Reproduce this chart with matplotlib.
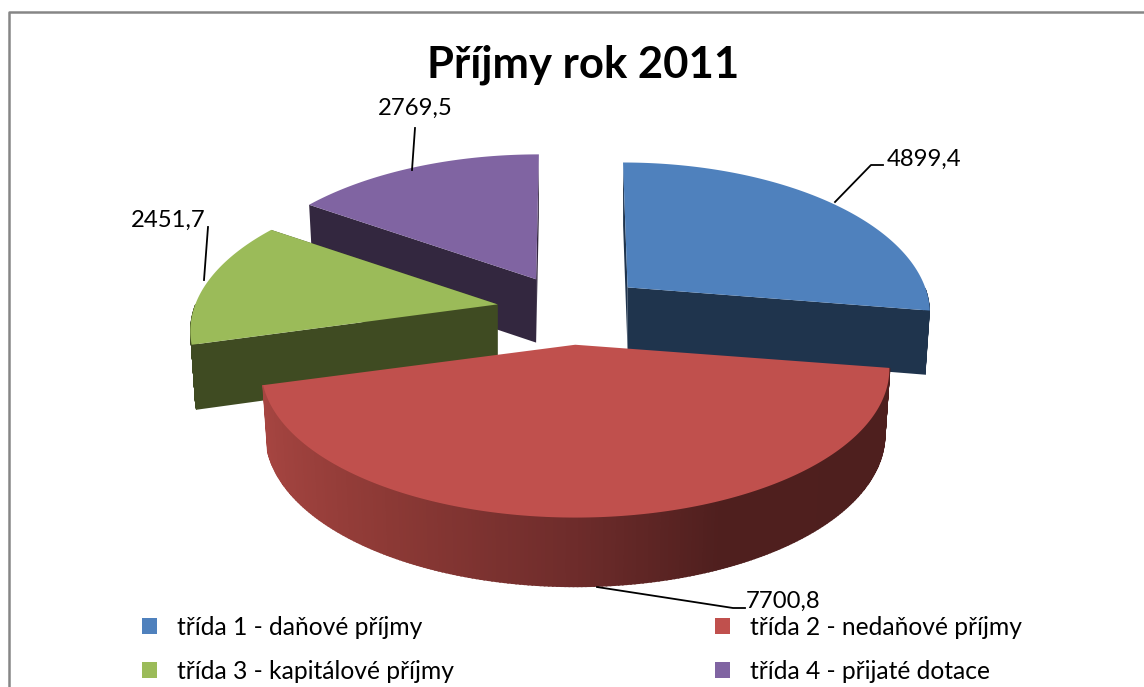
import numpy as np
import matplotlib
matplotlib.use('Agg')
import matplotlib.pyplot as plt
from matplotlib.patches import Patch

# Data
categories = ['třída 1 - daňové příjmy', 'třída 2 - nedaňové příjmy',
              'třída 3 - kapitálové příjmy', 'třída 4 - přijaté dotace']
values = [4899.4, 7700.8, 2451.7, 2769.5]
value_labels = ['4899,4', '7700,8', '2451,7', '2769,5']
title = 'Příjmy rok 2011'

# Colours
top_colors = ['#4F81BD', '#C0504D', '#9BBB59', '#8064A2']
side_colors = ['#1F344D', '#4E1F1E', '#3F4B22', '#33273F']

# Pie geometry in pixels (the axes are set up in image pixels)
CX, CY = 571, 310
RX, RY = 310, 145
EXPLODE = 0.24
PERSP = 0.161
wedge_scale = [0.96, 1.0, 0.975, 0.97]


def depth_of(y3d):
    return np.interp(y3d, [-1.3, 0.3], [69, 63])


def wedge_points(theta, mid, scale):
    # top face outline of a slice at angles theta, clockwise from 12 o'clock
    ex, ey = EXPLODE * np.sin(mid), EXPLODE * np.cos(mid)
    local_y = np.cos(theta)
    s = 1 / (1 + PERSP * local_y)
    x = CX + RX * ex + RX * scale * np.sin(theta) * s
    x = x - RX * ex * 0.08 * local_y
    y = CY - RY * ey - RY * local_y * s
    return x, y, local_y + ey


def apex_point(mid):
    ex, ey = EXPLODE * np.sin(mid), EXPLODE * np.cos(mid)
    return CX + RX * ex, CY - RY * ey, ey


def lower(x, y, y3d, apex_x):
    return apex_x + (x - apex_x) * 0.985, y + depth_of(y3d)


def red_shade(theta):
    # shading of the curved wall, lighter on the left side
    pos = np.sin(theta)
    r = np.interp(pos, [-1, -0.55, 0.0, 0.4, 1], [0xA8, 0x8E, 0x6E, 0x4F, 0x4E])
    g = np.interp(pos, [-1, -0.55, 0.0, 0.4, 1], [0x46, 0x3A, 0x2C, 0x1F, 0x1F])
    b = np.interp(pos, [-1, -0.55, 0.0, 0.4, 1], [0x42, 0x36, 0x2B, 0x1E, 0x1E])
    return (r / 255, g / 255, b / 255)


fig = plt.figure(figsize=(11.44, 6.87), dpi=100)
ax = fig.add_axes([0, 0, 1, 1])
ax.set_xlim(0, 1144)
ax.set_ylim(687, 0)
ax.axis('off')

# Slice angles from the values
fractions = np.array(values) / sum(values)
ends = np.cumsum(fractions) * 2 * np.pi
starts = ends - fractions * 2 * np.pi
mids = (starts + ends) / 2

# Back to front: purple, blue, green, red
for order, i in enumerate([3, 0, 2, 1]):
    theta = np.linspace(starts[i], ends[i], 240)
    x, y, y3d = wedge_points(theta, mids[i], wedge_scale[i])
    ax_, ay_, az_ = apex_point(mids[i])
    xl, yl = lower(x, y, y3d, ax_)
    yl_apex = ay_ + depth_of(az_)
    z = order + 1

    # curved outer wall, only the part that faces the viewer
    for j in range(len(theta) - 1):
        if np.cos(theta[j]) > 0:
            continue
        color = red_shade(theta[j]) if i == 1 else side_colors[i]
        ax.fill([x[j], x[j + 1], xl[j + 1], xl[j]], [y[j], y[j + 1], yl[j + 1], yl[j]],
                facecolor=color, edgecolor=color, linewidth=1.2 if i == 1 else 0.3, zorder=z)

    # flat radial walls, the big front slice shows none of them
    if i != 1:
        for k in [0, -1]:
            ax.fill([ax_, x[k], xl[k], ax_], [ay_, y[k], yl[k], yl_apex],
                    facecolor=side_colors[i], edgecolor='none', zorder=z)

    # top face
    ax.fill(np.r_[ax_, x], np.r_[ay_, y], facecolor=top_colors[i], edgecolor='none', zorder=z)

# Leader lines
ax.plot([835, 871, 883], [202, 165, 165], color='black', lw=1.3, zorder=6)
ax.plot([597, 733, 745], [587, 608, 608], color='black', lw=1.3, zorder=6)
ax.plot([204, 208], [280, 227], color='black', lw=1.3, zorder=6)
ax.plot([412, 415], [170, 128], color='black', lw=1.3, zorder=6)

# Data labels
label_font = {'family': 'Lato', 'fontsize': 17.2, 'color': 'black', 'zorder': 7}
ax.text(887, 159, value_labels[0], ha='left', va='center', **label_font)
ax.text(746, 601, value_labels[1], ha='left', va='center', **label_font)
ax.text(131, 220, value_labels[2], ha='left', va='center', **label_font)
ax.text(378, 108, value_labels[3], ha='left', va='center', **label_font)

ax.text(583, 65, title, ha='center', va='center', family='Lato', fontweight='bold',
        fontsize=31.4, color='black')

# Chart border, cut off on the right and at the bottom of the screenshot
ax.plot([9, 9, 1144], [687, 12, 12], color='#868686', lw=1.8, zorder=8)

# Legend, filled column by column
legend_order = [0, 2, 1, 3]
handles = [Patch(color=top_colors[i], linewidth=0) for i in legend_order]
labels = [categories[i] for i in legend_order]
leg = ax.legend(handles, labels, loc='upper left', bbox_to_anchor=(142 / 1144, 1 - 616 / 687),
                ncol=2, frameon=False, prop={'family': 'Lato', 'size': 17.7},
                handlelength=0.61, handleheight=0.61, handletextpad=0.8,
                columnspacing=10.65, labelspacing=0.84, borderpad=0, borderaxespad=0)

plt.savefig('out.png', dpi=100)
